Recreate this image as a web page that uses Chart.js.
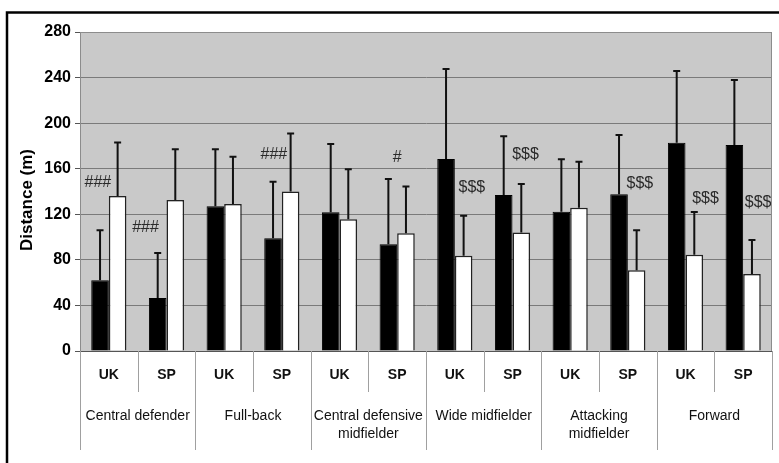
<!DOCTYPE html>
<html>
<head>
<meta charset="utf-8">
<script src="https://cdn.jsdelivr.net/npm/chart.js@4.4.0/dist/chart.umd.min.js"></script>
<style>
  body { margin: 0; background: #fff; }
  canvas { display: block; }
</style>
</head>
<body>
<canvas id="myChart" width="779" height="463"></canvas>
<script>
// positions (x-axis groups) and the two countries inside each group
var positions = ['Central defender', 'Full-back', ['Central defensive', 'midfielder'], 'Wide midfielder', ['Attacking', 'midfielder'], 'Forward'];
var countries = ['UK', 'SP'];

// black bars (mean) and their SD
var blackMeans = [62, 46.5, 127, 99, 121.7, 93.6, 168.5, 137, 122.3, 137.5, 182.8, 180.8];
var blackSD = [44, 39.5, 50, 49.6, 60, 57.4, 79, 51.4, 45.9, 52.1, 63, 57.1];

// white bars (mean) and their SD
var whiteMeans = [136, 132.5, 129, 140, 115.6, 103.3, 83.7, 104, 125.8, 70.8, 84.5, 67.6];
var whiteSD = [47, 44.5, 41.5, 51, 44, 41, 35, 42.6, 40.4, 35.2, 37.5, 29.8];

// y-axis ticks
var yMin = 0, yMax = 280, yStep = 40;

// significance marks: category index, value level, text
var markIndex = [0, 1, 3, 5, 6, 7, 9, 10, 11];
var markValue = [147.5, 108, 172, 170, 143, 172, 146.6, 134, 130];
var markText = ['###', '###', '###', '#', '$$$', '$$$', '$$$', '$$$', '$$$'];

var labels = [];
positions.forEach(function () {
    countries.forEach(function (c) { labels.push(c); });
});

var FONT = '"Liberation Sans", Arial, sans-serif';
var markShift = [-11, -21, -8, 0, 17, 13, 12, 20, 15]; // horizontal nudge of the marks, px

var bgPlugin = {
    id: 'bgPlugin',
    beforeDraw: function (chart) {
        var c = chart.ctx, a = chart.chartArea;
        c.save();
        c.fillStyle = '#c9c9c9';
        c.fillRect(a.left, a.top, a.right - a.left, a.bottom - a.top);
        // outer frame
        c.strokeStyle = '#000';
        c.lineWidth = 2.5;
        c.beginPath();
        c.moveTo(7, 463);
        c.lineTo(7, 12.5);
        c.lineTo(779, 12.5);
        c.stroke();
        // y axis title
        c.translate(27, 200);
        c.rotate(-Math.PI / 2);
        c.fillStyle = '#000';
        c.font = 'bold 17px ' + FONT;
        c.textAlign = 'center';
        c.textBaseline = 'middle';
        c.fillText('Distance (m)', 0, 0);
        c.restore();
    }
};

var errorBars = {
    id: 'errorBars',
    afterDatasetsDraw: function (chart) {
        var c = chart.ctx, y = chart.scales.y;
        var sds = [blackSD, whiteSD];
        c.save();
        c.strokeStyle = '#111';
        c.lineWidth = 2;
        chart.data.datasets.forEach(function (ds, d) {
            chart.getDatasetMeta(d).data.forEach(function (bar, i) {
                var top = y.getPixelForValue(ds.data[i] + sds[d][i]);
                c.beginPath();
                c.moveTo(bar.x, bar.y);
                c.lineTo(bar.x, top);
                c.moveTo(bar.x - 3.5, top);
                c.lineTo(bar.x + 3.5, top);
                c.stroke();
            });
        });
        // significance marks
        c.fillStyle = '#2a2a2a';
        c.font = '16px ' + FONT;
        c.textAlign = 'center';
        c.textBaseline = 'middle';
        markIndex.forEach(function (idx, k) {
            var x = chart.scales.x.getPixelForValue(idx) + markShift[k];
            c.fillText(markText[k], x, y.getPixelForValue(markValue[k]));
        });
        c.restore();
    }
};

var tablePlugin = {
    id: 'tablePlugin',
    afterDraw: function (chart) {
        var c = chart.ctx, a = chart.chartArea, x = chart.scales.x;
        var n = labels.length, w = (a.right - a.left) / n;
        c.save();
        // plot border
        c.strokeStyle = '#8c8c8c';
        c.lineWidth = 1;
        c.strokeRect(a.left + 0.5, a.top + 0.5, a.right - a.left - 1, a.bottom - a.top);
        c.strokeStyle = '#555';
        c.beginPath();
        c.moveTo(a.left, a.bottom + 0.5);
        c.lineTo(a.right, a.bottom + 0.5);
        c.stroke();
        // separators
        c.strokeStyle = '#a0a0a0';
        for (var i = 0; i <= n; i++) {
            var px = Math.round(a.left + i * w) + 0.5;
            var bottom = (i % 2 === 0) ? 450 : 392;
            c.beginPath();
            c.moveTo(px, a.bottom);
            c.lineTo(px, bottom);
            c.stroke();
        }
        c.fillStyle = '#111';
        c.textAlign = 'center';
        c.textBaseline = 'middle';
        c.font = 'bold 14px ' + FONT;
        labels.forEach(function (l, i) {
            c.fillText(l, x.getPixelForValue(i), 375);
        });
        c.font = '14px ' + FONT;
        positions.forEach(function (p, g) {
            var cx = (x.getPixelForValue(g * 2) + x.getPixelForValue(g * 2 + 1)) / 2;
            var lines = Array.isArray(p) ? p : [p];
            lines.forEach(function (t, j) {
                c.fillText(t, cx, 416 + j * 18);
            });
        });
        c.restore();
    }
};

var ctx = document.getElementById('myChart').getContext('2d');
var chart = new Chart(ctx, {
    type: 'bar',
    data: {
        labels: labels,
        datasets: [
            {
                label: 'Black',
                data: blackMeans,
                backgroundColor: '#000',
                borderColor: '#000',
                borderWidth: 1
            },
            {
                label: 'White',
                data: whiteMeans,
                backgroundColor: '#fff',
                borderColor: '#222',
                borderWidth: 1.5
            }
        ]
    },
    options: {
        responsive: false,
        animation: false,
        layout: { padding: { top: 32, right: 7, left: 0, bottom: 0 } },
        datasets: { bar: { categoryPercentage: 0.61, barPercentage: 1.0 } },
        plugins: { legend: { display: false }, tooltip: { enabled: false } },
        scales: {
            x: {
                ticks: { display: false },
                grid: { display: false },
                border: { display: false },
                afterFit: function (scale) { scale.height = 112; }
            },
            y: {
                min: yMin,
                max: yMax,
                ticks: {
                    stepSize: yStep,
                    color: '#000',
                    padding: 4,
                    font: { family: FONT, size: 16, weight: 'bold' }
                },
                grid: { color: '#7a7a7a', tickLength: 5, tickColor: '#555' },
                border: { display: true, color: '#777' },
                afterFit: function (scale) { scale.width = 80; }
            }
        }
    },
    plugins: [bgPlugin, errorBars, tablePlugin]
});
</script>
</body>
</html>
